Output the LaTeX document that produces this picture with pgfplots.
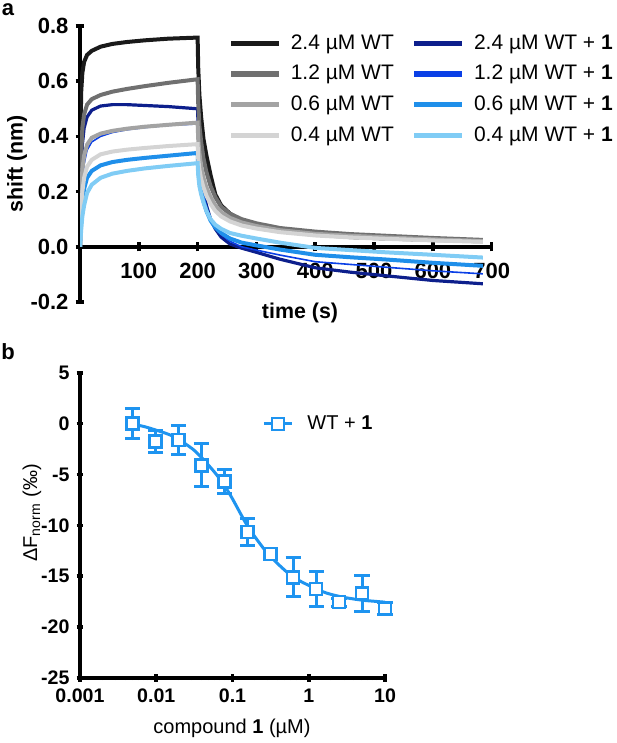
\documentclass[border=0pt]{standalone}
\usepackage{fontspec}
\setmainfont{Liberation Sans}
\usepackage{pgfplots}
\usepackage{pgfplotstable}
\pgfplotsset{compat=1.18}

\definecolor{w24}{HTML}{1A1A1A}
\definecolor{w12}{HTML}{707070}
\definecolor{w06}{HTML}{A3A3A3}
\definecolor{w04}{HTML}{D4D4D4}
\definecolor{c24}{HTML}{0D1F8C}
\definecolor{c12}{HTML}{0A3FE6}
\definecolor{c06}{HTML}{1F8FEA}
\definecolor{c04}{HTML}{80CCF5}
\definecolor{mst}{HTML}{1E94F0}

% binding kinetics, shift (nm) vs time (s)
\pgfplotstableread{
t    w24   w12   w06   w04   c24    c12    c06    c04
0    0     0     0     0     0      0      0      0
1    0.42  0.20  0.10  0.07  0.15   0.08   0.05   0.03
2    0.56  0.33  0.19  0.13  0.27   0.15   0.10   0.06
4    0.63  0.43  0.28  0.20  0.37   0.24   0.16   0.11
7    0.67  0.48  0.33  0.25  0.43   0.30   0.21   0.15
12   0.695 0.515 0.37  0.29  0.47   0.35   0.25   0.195
20   0.71  0.535 0.395 0.315 0.495  0.38   0.275  0.225
35   0.725 0.55  0.41  0.335 0.51   0.40   0.295  0.25
55   0.735 0.562 0.42  0.345 0.515  0.414  0.307  0.265
80   0.742 0.572 0.428 0.352 0.515  0.424  0.315  0.275
110  0.748 0.582 0.435 0.358 0.512  0.432  0.322  0.284
150  0.754 0.594 0.442 0.365 0.508  0.44   0.33   0.293
200  0.758 0.607 0.45  0.372 0.50   0.445  0.34   0.303
201  0.65  0.52  0.39  0.32  0.42   0.37   0.29   0.26
203  0.55  0.44  0.34  0.28  0.33   0.30   0.24   0.22
206  0.47  0.38  0.29  0.245 0.26   0.24   0.20   0.19
210  0.39  0.32  0.25  0.215 0.20   0.19   0.165  0.16
215  0.33  0.27  0.215 0.185 0.15   0.145  0.13   0.13
222  0.26  0.22  0.18  0.155 0.10   0.10   0.095  0.10
230  0.19  0.18  0.15  0.13  0.065  0.07   0.07   0.08
240  0.15  0.145 0.125 0.11  0.035  0.045  0.05   0.065
255  0.12  0.12  0.105 0.092 0.01   0.02   0.03   0.05
275  0.095 0.10  0.088 0.077 -0.005 0      0.015  0.04
300  0.08  0.085 0.075 0.066 -0.02  -0.012 0.005  0.03
340  0.06  0.068 0.06  0.053 -0.045 -0.03  -0.01  0.015
400  0.045 0.055 0.047 0.041 -0.076 -0.054 -0.029 -0.004
460  0.035 0.046 0.04  0.034 -0.092 -0.064 -0.038 -0.012
520  0.03  0.04  0.034 0.029 -0.105 -0.074 -0.046 -0.02
600  0.025 0.032 0.027 0.023 -0.122 -0.087 -0.058 -0.029
685  0.02  0.025 0.021 0.018 -0.134 -0.098 -0.069 -0.039
}\kin

% MST dose response
\pgfplotstableread{
x        y      e
0.00488  0      1.45
0.00977  -1.75  1.1
0.0195   -1.6   1.4
0.039    -4.1   2.1
0.078    -5.7   1.2
0.156    -10.65 1.3
0.3125   -12.8  0.45
0.625    -15.1  1.9
1.25     -16.25 1.75
2.5      -17.55 0.4
5        -16.7  1.75
10       -18.2  0.6
}\mstdata

\pgfplotstableread{
x      y
0.0049 -0.05
0.007  -0.3
0.01   -0.65
0.015  -1.1
0.02   -1.6
0.03   -2.5
0.04   -3.4
0.06   -4.9
0.08   -6.2
0.1    -7.4
0.15   -9.8
0.2    -11.2
0.3    -12.9
0.5    -14.5
0.7    -15.3
1      -15.9
1.5    -16.5
2      -16.8
3      -17.1
5      -17.35
7      -17.45
10     -17.55
}\mstfit

\pgfplotsset{
  every axis/.append style={
    scale only axis, tick align=outside,
    tick style={line width=1.8bp, black},
  },
}

\begin{document}
\begin{tikzpicture}
\useasboundingbox (0,0) rectangle (308.5bp,371.5bp);

\begin{axis}[at={(40bp,220.5bp)}, anchor=south west,
  width=205.85bp, height=138bp,
  xmin=0, xmax=700, ymin=-0.2, ymax=0.8,
  axis x line=middle, axis y line=left,
  axis line style={-, line width=1.8bp, black},
  every inner x axis line/.append style={-},
  every outer x axis line/.append style={-},
  every inner y axis line/.append style={-},
  every outer y axis line/.append style={-},
  xtick={100,200,...,700}, xticklabels={100,200,300,400,500,600,700},
  ytick={-0.2,0,0.2,0.4,0.6,0.8}, yticklabels={-0.2,0.0,0.2,0.4,0.6,0.8},
  major tick length=4.5bp,
  ticklabel style={font=\fontsize{11bp}{13bp}\selectfont\bfseries},
  xticklabel style={yshift=-2.5bp},
  legend columns=2,
  legend style={at={(axis description cs:0.36,0.985)}, anchor=north west,
    draw=none, fill=none, font=\fontsize{10.5bp}{12bp}\selectfont,
    row sep=2.5bp, inner sep=0pt,
    /tikz/every odd column/.append style={column sep=2.5bp},
    /tikz/every even column/.append style={column sep=7bp}},
  legend image code/.code={\draw[#1, line width=2.6bp] (0bp,0bp) -- (24bp,0bp);},
]
\addplot[w24, line width=2bp] table[x=t, y=w24]{\kin};
\addplot[c24, line width=1.6bp] table[x=t, y=c24]{\kin};
\addplot[w12, line width=2bp] table[x=t, y=w12]{\kin};
\addplot[c12, line width=0.8bp] table[x=t, y=c12]{\kin};
\addplot[w06, line width=2bp] table[x=t, y=w06]{\kin};
\addplot[c06, line width=2bp] table[x=t, y=c06]{\kin};
\addplot[w04, line width=2bp] table[x=t, y=w04]{\kin};
\addplot[c04, line width=2bp] table[x=t, y=c04]{\kin};
\legend{2.4 µM WT, 2.4 µM WT + \textbf{1},
        1.2 µM WT, 1.2 µM WT + \textbf{1},
        0.6 µM WT, 0.6 µM WT + \textbf{1},
        0.4 µM WT, 0.4 µM WT + \textbf{1}}
\end{axis}

\begin{axis}[at={(40bp,32.5bp)}, anchor=south west,
  width=152.5bp, height=152.65bp,
  xmode=log, xmin=0.001, xmax=10, ymin=-25, ymax=5,
  axis x line=bottom, axis y line=left, clip=false,
  axis line style={-, line width=1.8bp, black},
  every outer x axis line/.append style={-},
  every outer y axis line/.append style={-},
  xtick={0.001,0.01,0.1,1,10}, xticklabels={0.001,0.01,0.1,1,10},
  minor xtick={0.002,0.003,0.004,0.005,0.006,0.007,0.008,0.009,
    0.02,0.03,0.04,0.05,0.06,0.07,0.08,0.09,
    0.2,0.3,0.4,0.5,0.6,0.7,0.8,0.9,2,3,4,5,6,7,8,9},
  ytick={-25,-20,...,5}, yticklabels={-25,-20,-15,-10,-5,0,5},
  major tick length=3.5bp, minor tick length=2bp,
  minor tick style={line width=1.4bp},
  ticklabel style={font=\fontsize{9.8bp}{11bp}\selectfont\bfseries},
  legend style={at={(axis description cs:0.597,0.832)}, anchor=west,
    draw=none, fill=none, font=\fontsize{10bp}{12bp}\selectfont, inner sep=0pt,
    /tikz/every odd column/.append style={column sep=5bp}},
  legend image code/.code={\draw[mark repeat=2, mark phase=2, #1]
    plot coordinates {(0bp,0bp) (7bp,0bp) (14bp,0bp)};},
]
\addplot[mst, line width=1.5bp, smooth, forget plot] table[x=x, y=y]{\mstfit};
\addplot[mst, only marks, mark=square*, mark size=3bp, forget plot,
  mark options={fill=white, line width=1.3bp},
  error bars/.cd, y dir=both, y explicit,
  error bar style={line width=1.5bp},
  error mark options={rotate=90, mark size=3.8bp, line width=1.5bp},
  ] table[x=x, y=y, y error=e]{\mstdata};
\addlegendimage{mst, line width=1.5bp, mark=square*, mark size=3bp,
  mark options={fill=white, line width=1.3bp}}
\addlegendentry{WT + \textbf{1}}
\end{axis}

% panel letters and axis titles
\node[font=\fontsize{11bp}{13bp}\selectfont\bfseries] at (4bp,366.5bp) {a};
\node[font=\fontsize{11bp}{13bp}\selectfont\bfseries] at (4bp,195.5bp) {b};
\node[font=\fontsize{10.7bp}{12bp}\selectfont\bfseries, rotate=90] at (8.5bp,289.5bp) {shift (nm)};
\node[font=\fontsize{10.7bp}{12bp}\selectfont\bfseries] at (150bp,215bp) {time (s)};
\node[font=\fontsize{10bp}{12bp}\selectfont, rotate=90] at (16bp,115bp)
  {ΔF\textsubscript{norm} (‰)};
\node[font=\fontsize{10bp}{12bp}\selectfont] at (116bp,7.5bp)
  {compound \textbf{1} (µM)};
\end{tikzpicture}
\end{document}
